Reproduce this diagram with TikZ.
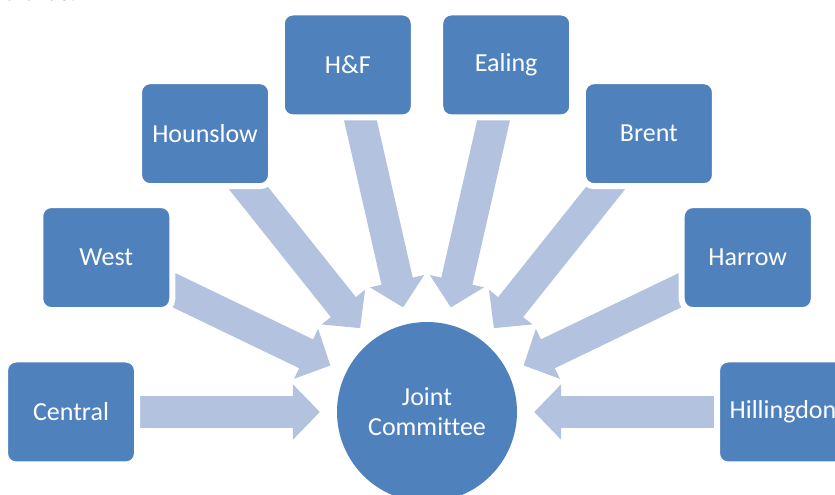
\documentclass[tikz,border=0pt]{standalone}
\usepackage{fontspec}
\setmainfont{Carlito}[Ligatures=NoCommon]
\usetikzlibrary{arrows.meta,backgrounds}
\definecolor{boxblue}{RGB}{79,129,189}
\definecolor{arrowblue}{RGB}{179,194,222}
\begin{document}
\begin{tikzpicture}[x=1pt,y=1pt,
  unit/.style={draw=white, line width=6pt, fill=boxblue, rounded corners=11pt,
    minimum width=132pt, minimum height=105pt, inner sep=0pt, text=white,
    font=\fontsize{26}{30}\selectfont},
  hub/.style={circle, fill=boxblue, minimum size=180pt, inner sep=0pt, text=white,
    align=center, font=\fontsize{26}{30}\selectfont},
  feed/.style={draw=arrowblue, line width=32pt,
    -{Triangle[width=54pt,length=27pt,fill=arrowblue]}, shorten >=17pt}]
\useasboundingbox (0,0) rectangle (835,495);
\clip (0,0) rectangle (835,495);
\coordinate (c) at (427,83);
\node[hub] (jc) at (c) {Joint\\Committee};
\node[unit] (central) at ([shift={(180:356)}]c) {Central};
\node[unit] (west) at ([shift={(154.29:356)}]c) {West};
\node[unit] (hounslow) at ([shift={(128.57:356)}]c) {Hounslow};
\node[unit] (hf) at ([shift={(102.86:356)}]c) {H\&F};
\node[unit] (ealing) at ([shift={(77.14:356)}]c) {Ealing};
\node[unit] (brent) at ([shift={(51.43:356)}]c) {Brent};
\node[unit] (harrow) at ([shift={(25.71:356)}]c) {Harrow};
\node[unit] (hill) at ([shift={(0:356)}]c) {Hillingdon};
\node[anchor=base west, inner sep=0pt, font=\fontsize{26}{30}\selectfont] (frag) at (4,494) {d thus:};
\begin{scope}[on background layer]
\foreach \b in {central,west,hounslow,hf,ealing,brent,harrow,hill}
  \draw[feed] (\b.center) -- (jc);
\end{scope}
\end{tikzpicture}
\end{document}
